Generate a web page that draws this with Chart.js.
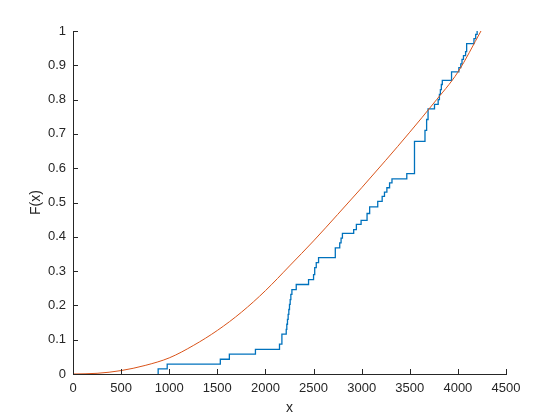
<!DOCTYPE html>
<html>
<head>
<meta charset="utf-8">
<script src="https://cdn.jsdelivr.net/npm/chart.js@4"></script>
<style>
  body { margin: 0; background: #fff; }
  #wrap { width: 560px; height: 420px; }
</style>
</head>
<body>
<div id="wrap"><canvas id="cdfChart" width="560" height="420"></canvas></div>
<script>
// Empirical CDF steps (x where the jump happens, level after the jump)
const ecdfX = [885, 885, 979, 1531, 1625, 1896, 2146, 2171, 2216, 2222, 2229, 2236, 2243, 2250, 2257, 2264, 2275,
    2320, 2448, 2500, 2512, 2528, 2552, 2726, 2772, 2786, 2800, 2917, 2945, 2994, 3056, 3083, 3167, 3213,
    3237, 3262, 3290, 3315, 3469, 3549, 3658, 3675, 3690, 3757, 3795, 3808, 3818, 3828, 3838, 3934,
    4010, 4030, 4043, 4058, 4080, 4091, 4167, 4185, 4200];
const ecdfY = [0, 0.015, 0.029, 0.043, 0.058, 0.072, 0.087, 0.116, 0.130, 0.145, 0.159, 0.174, 0.188, 0.203, 0.217, 0.232, 0.246,
    0.261, 0.275, 0.290, 0.310, 0.325, 0.339, 0.368, 0.382, 0.396, 0.410, 0.421, 0.436, 0.448, 0.468, 0.487, 0.503, 0.518,
    0.530, 0.543, 0.557, 0.569, 0.584, 0.678, 0.710, 0.742, 0.773, 0.786, 0.800, 0.815, 0.829, 0.844, 0.856, 0.881,
    0.893, 0.904, 0.917, 0.928, 0.940, 0.963, 0.978, 0.990, 1.0];

// Fitted CDF
const fitX = [0, 250, 500, 750, 1000, 1250, 1500, 1750, 2000, 2250, 2500, 2750, 3000, 3250, 3500, 3750, 4000, 4240];
const fitY = [0, 0.002, 0.010, 0.025, 0.047, 0.083, 0.127, 0.180, 0.243, 0.315, 0.388, 0.465, 0.543, 0.623, 0.705, 0.790, 0.880, 1.0];

const xTicks = [0, 500, 1000, 1500, 2000, 2500, 3000, 3500, 4000, 4500];
const yTicks = [0, 0.1, 0.2, 0.3, 0.4, 0.5, 0.6, 0.7, 0.8, 0.9, 1];

const axisColor = '#262626';
const fontFamily = '"Liberation Sans", Arial, sans-serif';

// MATLAB style ticks pointing into the plot
const inwardTicks = {
    id: 'inwardTicks',
    afterDraw(chart) {
        const ctx = chart.ctx;
        const xs = chart.scales.x;
        const ys = chart.scales.y;
        const area = chart.chartArea;
        ctx.save();
        ctx.strokeStyle = axisColor;
        ctx.lineWidth = 1;
        ctx.beginPath();
        xTicks.forEach(v => {
            const px = Math.round(xs.getPixelForValue(v)) + 0.5;
            ctx.moveTo(px, area.bottom);
            ctx.lineTo(px, area.bottom - 5);
        });
        yTicks.forEach(v => {
            const py = Math.round(ys.getPixelForValue(v)) + 0.5;
            ctx.moveTo(area.left, py);
            ctx.lineTo(area.left + 5, py);
        });
        ctx.stroke();
        ctx.restore();
    }
};

const ctx = document.getElementById('cdfChart').getContext('2d');
const cdfChart = new Chart(ctx, {
    type: 'line',
    data: {
        datasets: [
            {
                label: 'fit',
                data: fitX.map((x, i) => ({ x: x, y: fitY[i] })),
                borderColor: '#D95319',
                borderWidth: 1,
                pointRadius: 0,
                cubicInterpolationMode: 'monotone',
                fill: false,
                order: 0
            },
            {
                label: 'ecdf',
                data: ecdfX.map((x, i) => ({ x: x, y: ecdfY[i] })),
                borderColor: '#0072BD',
                borderWidth: 1.3,
                pointRadius: 0,
                stepped: 'before',
                fill: false,
                order: 1
            }
        ]
    },
    options: {
        responsive: false,
        animation: false,
        layout: {
            padding: { left: 0, right: 54, top: 31, bottom: 0 }
        },
        plugins: {
            legend: { display: false },
            tooltip: { enabled: false }
        },
        scales: {
            x: {
                type: 'linear',
                min: 0,
                max: 4500,
                afterBuildTicks: (scale) => { scale.ticks = xTicks.map(v => ({ value: v })); },
                afterFit: (scale) => { scale.height = 46; },
                grid: { display: false, drawTicks: false },
                border: { display: true, color: axisColor, width: 1 },
                ticks: {
                    color: axisColor,
                    padding: 7,
                    maxRotation: 0,
                    font: { family: fontFamily, size: 13 },
                    callback: (v) => String(v)
                },
                title: {
                    display: true,
                    text: 'x',
                    color: axisColor,
                    padding: { top: 0, bottom: 3 },
                    font: { family: fontFamily, size: 14 }
                }
            },
            y: {
                type: 'linear',
                min: 0,
                max: 1,
                afterBuildTicks: (scale) => { scale.ticks = yTicks.map(v => ({ value: v })); },
                afterFit: (scale) => { scale.width = 73; },
                grid: { display: false, drawTicks: false },
                border: { display: true, color: axisColor, width: 1 },
                ticks: {
                    color: axisColor,
                    padding: 7,
                    font: { family: fontFamily, size: 13 },
                    callback: (v) => String(Number(v.toFixed(1)))
                },
                title: {
                    display: true,
                    text: 'F(x)',
                    color: axisColor,
                    padding: { top: 28, bottom: 0 },
                    font: { family: fontFamily, size: 14 }
                }
            }
        }
    },
    plugins: [inwardTicks]
});
</script>
</body>
</html>
